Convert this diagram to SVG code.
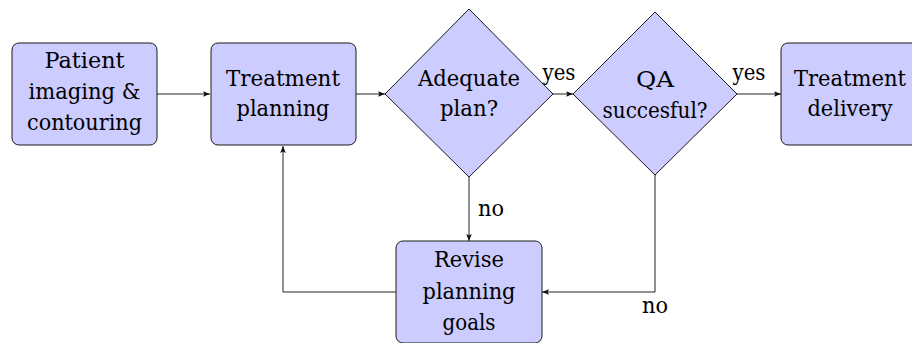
<svg xmlns="http://www.w3.org/2000/svg" width="912" height="343" viewBox="0 0 912 343">
  <style>
    .node { fill: #ccccff; stroke: #1a1a1a; stroke-width: 1; }
    text { font-family: 'DejaVu Serif', serif; font-size: 23px; fill: #000; text-anchor: middle; }
    .edge { fill: none; stroke: #222; stroke-width: 1; }
  </style>
  <defs>
    <marker id="arr" viewBox="0 0 10 8" refX="10" refY="4" markerWidth="7" markerHeight="5.6" markerUnits="userSpaceOnUse" orient="auto">
      <path d="M0,0 L10,4 L0,8 L2,4 Z" fill="#111"/>
    </marker>
  </defs>
  <rect width="912" height="343" fill="#ffffff"/>

  <g id="connectors">
    <line class="edge" x1="157" y1="94" x2="210" y2="94" marker-end="url(#arr)"/>
    <line class="edge" x1="356" y1="94" x2="385" y2="94" marker-end="url(#arr)"/>
    <line class="edge" x1="553" y1="94" x2="573" y2="94" marker-end="url(#arr)"/>
    <line class="edge" x1="737" y1="94" x2="781" y2="94" marker-end="url(#arr)"/>
    <line class="edge" x1="469" y1="177" x2="469" y2="241" marker-end="url(#arr)"/>
    <polyline class="edge" points="655,175 655,292 542,292" marker-end="url(#arr)"/>
    <polyline class="edge" points="396,292 283,292 283,146" marker-end="url(#arr)"/>
    <text x="559" y="80" textLength="33" lengthAdjust="spacingAndGlyphs">yes</text>
    <text x="749" y="80" textLength="33" lengthAdjust="spacingAndGlyphs">yes</text>
    <text x="491" y="216" textLength="26" lengthAdjust="spacingAndGlyphs">no</text>
    <text x="655" y="313" textLength="26" lengthAdjust="spacingAndGlyphs">no</text>
  </g>

  <g id="patient-imaging">
    <rect class="node" x="12" y="43" width="145" height="102" rx="7"/>
    <text x="84.5" y="68" textLength="80" lengthAdjust="spacingAndGlyphs">Patient</text>
    <text x="84.5" y="99" textLength="112" lengthAdjust="spacingAndGlyphs">imaging &amp;</text>
    <text x="84.5" y="130" textLength="115" lengthAdjust="spacingAndGlyphs">contouring</text>
  </g>

  <g id="treatment-planning">
    <rect class="node" x="211" y="43" width="145" height="102" rx="7"/>
    <text x="283" y="86" textLength="114" lengthAdjust="spacingAndGlyphs">Treatment</text>
    <text x="283" y="116" textLength="93" lengthAdjust="spacingAndGlyphs">planning</text>
  </g>

  <g id="adequate-plan">
    <polygon class="node" points="469,9 553,94 469,177 385,94"/>
    <text x="469" y="86" textLength="102" lengthAdjust="spacingAndGlyphs">Adequate</text>
    <text x="469" y="116" textLength="58" lengthAdjust="spacingAndGlyphs">plan?</text>
  </g>

  <g id="qa-successful">
    <polygon class="node" points="655,12 737,94 655,175 573,94"/>
    <text x="655" y="87" textLength="38" lengthAdjust="spacingAndGlyphs">QA</text>
    <text x="655" y="118" textLength="105" lengthAdjust="spacingAndGlyphs">succesful?</text>
  </g>

  <g id="treatment-delivery">
    <rect class="node" x="781" y="43" width="145" height="102" rx="7"/>
    <text x="850" y="86" textLength="112" lengthAdjust="spacingAndGlyphs">Treatment</text>
    <text x="850" y="116" textLength="85" lengthAdjust="spacingAndGlyphs">delivery</text>
  </g>

  <g id="revise-goals">
    <rect class="node" x="396" y="241" width="146" height="102" rx="7"/>
    <text x="469" y="267" textLength="70" lengthAdjust="spacingAndGlyphs">Revise</text>
    <text x="469" y="299" textLength="93" lengthAdjust="spacingAndGlyphs">planning</text>
    <text x="469" y="330" textLength="53" lengthAdjust="spacingAndGlyphs">goals</text>
  </g>
</svg>
